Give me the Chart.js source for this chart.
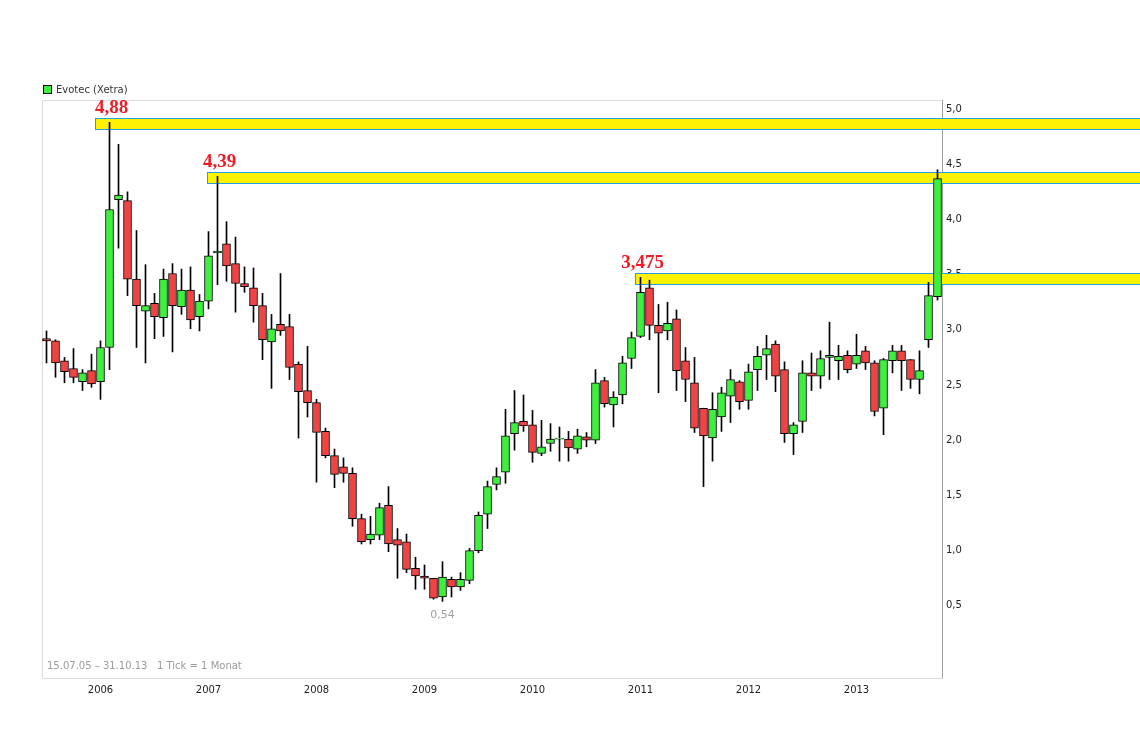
<!DOCTYPE html>
<html>
<head>
<meta charset="utf-8">
<script src="https://cdn.jsdelivr.net/npm/chart.js@4"></script>
<style>
  html, body { margin: 0; padding: 0; background: #fff; }
  #wrap { width: 1140px; height: 734px; }
</style>
</head>
<body>
<div id="wrap"><canvas id="chart" width="1140" height="734"></canvas></div>
<script>
// --- monthly candles, 07/2005 .. 10/2013
const opens = [2.92,2.90,2.72,2.65,2.53,2.63,2.53,2.84,4.18,4.17,3.46,3.17,3.24,3.11,3.51,3.21,3.36,3.12,3.26,3.70,
  3.78,3.60,3.42,3.38,3.22,2.89,3.05,3.03,2.69,2.45,2.34,2.08,1.86,1.76,1.70,1.29,1.10,1.14,1.41,1.10,
  1.08,0.84,0.77,0.75,0.58,0.74,0.67,0.73,1.00,1.33,1.60,1.71,2.06,2.17,2.14,1.88,1.97,2.01,2.01,1.92,
  2.03,2.00,2.54,2.32,2.41,2.74,2.94,3.38,3.04,2.99,3.10,2.72,2.52,2.29,2.02,2.21,2.40,2.53,2.36,2.64,
  2.77,2.87,2.64,2.06,2.17,2.61,2.58,2.75,2.72,2.77,2.69,2.81,2.70,2.29,2.72,2.81,2.73,2.55,2.91,3.30];
const highs = [2.99,2.91,2.75,2.83,2.64,2.78,2.90,4.88,4.68,4.25,3.90,3.59,3.33,3.55,3.60,3.55,3.57,3.32,3.89,4.39,
  3.98,3.84,3.57,3.56,3.33,3.14,3.51,3.14,2.71,2.85,2.37,2.11,1.92,1.84,1.75,1.33,1.31,1.43,1.58,1.20,
  1.15,0.94,0.87,0.75,0.90,0.76,0.80,1.02,1.35,1.63,1.75,2.28,2.45,2.41,2.27,2.18,2.15,2.12,2.08,2.10,
  2.07,2.64,2.57,2.44,2.76,2.98,3.475,3.45,3.23,3.25,3.18,2.84,2.75,2.29,2.43,2.48,2.64,2.54,2.69,2.85,
  2.95,2.90,2.71,2.16,2.72,2.79,2.81,3.07,2.86,2.81,2.96,2.85,2.72,2.74,2.86,2.86,2.73,2.81,3.43,4.45];
const lows = [2.70,2.57,2.52,2.52,2.45,2.48,2.37,2.64,3.74,3.31,2.84,2.70,2.92,2.94,2.80,3.14,3.01,2.99,3.19,3.41,
  3.44,3.16,3.34,3.07,2.73,2.47,2.95,2.55,2.02,2.21,1.62,1.84,1.57,1.62,1.22,1.06,1.06,1.10,0.99,0.75,
  0.80,0.65,0.65,0.56,0.54,0.58,0.64,0.70,0.98,1.20,1.55,1.61,1.91,2.08,1.80,1.86,1.90,1.81,1.81,1.88,
  1.94,1.97,2.30,2.12,2.33,2.65,2.93,2.91,2.43,2.91,2.45,2.35,2.07,1.58,1.81,2.08,2.16,2.28,2.28,2.45,
  2.55,2.44,1.98,1.87,2.07,2.45,2.47,2.55,2.55,2.61,2.65,2.64,2.22,2.05,2.61,2.45,2.47,2.42,2.84,3.27];
const closes = [2.90,2.70,2.62,2.57,2.61,2.51,2.84,4.09,4.22,3.46,3.22,3.22,3.12,3.46,3.22,3.36,3.09,3.26,3.67,3.71,
  3.58,3.42,3.39,3.22,2.91,3.01,2.99,2.66,2.44,2.34,2.07,1.86,1.69,1.70,1.29,1.08,1.15,1.39,1.06,1.05,
  0.83,0.77,0.75,0.57,0.76,0.67,0.74,1.00,1.32,1.58,1.67,2.04,2.16,2.13,1.89,1.94,2.01,2.02,1.93,2.04,
  2.00,2.52,2.33,2.39,2.70,2.93,3.34,3.04,2.97,3.06,2.63,2.55,2.11,2.04,2.28,2.43,2.55,2.35,2.62,2.76,
  2.83,2.58,2.06,2.14,2.61,2.58,2.74,2.77,2.76,2.64,2.77,2.70,2.26,2.73,2.81,2.72,2.55,2.63,3.31,4.37];

// highs marked with yellow bands
const markIdx = [7, 19, 66];
const markText = ["4,88", "4,39", "3,475"];
const markLead = [15, 11, 6];   // px the band starts left of its candle
const lowIdx = 44;
const lowText = "0,54";

const months = [];
for (let y = 2005; y <= 2013; y++) {
  for (let m = 1; m <= 12; m++) {
    if ((y === 2005 && m < 7) || (y === 2013 && m > 10)) continue;
    months.push(y + "-" + String(m).padStart(2, "0"));
  }
}

const GREEN = "#3ef03e";
const RED = "#f04343";
const upColors = closes.map((c, i) => c >= opens[i] ? GREEN : RED);

// ------------------------------------------
// overlay: frame, legend, bands, notes
// ------------------------------------------
const overlay = {
  id: "overlay",
  beforeDatasetsDraw(chart) {
    const { ctx, chartArea: a } = chart;
    const xs = chart.scales.x, ys = chart.scales.y;
    ctx.save();
    ctx.strokeStyle = "#dcdcdc";
    ctx.lineWidth = 1;
    ctx.strokeRect(a.left + 0.5, a.top + 0.5, a.right - a.left, a.bottom - a.top);
    ctx.strokeStyle = "#a0a0a0";
    ctx.beginPath();
    ctx.moveTo(a.right + 0.5, a.top);
    ctx.lineTo(a.right + 0.5, a.bottom);
    ctx.stroke();

    // bands behind the candles
    markIdx.forEach((idx, k) => {
      const x0 = Math.round(xs.getPixelForValue(idx) - markLead[k]);
      const yt = Math.round(ys.getPixelForValue(highs[idx] + 0.04));
      const yb = Math.round(ys.getPixelForValue(highs[idx] - 0.06));
      ctx.fillStyle = "#fff200";
      ctx.fillRect(x0, yt, chart.width - x0, yb - yt);
      ctx.strokeStyle = "#1ea0e6";
      ctx.strokeRect(x0 + 0.5, yt + 0.5, chart.width - x0, yb - yt);
      ctx.fillStyle = "#ee1c25";
      ctx.font = "bold 19px 'Liberation Serif', serif";
      ctx.textAlign = "center";
      ctx.textBaseline = "alphabetic";
      ctx.fillText(markText[k], xs.getPixelForValue(idx) + 2, yt - 5);
    });
    ctx.restore();
  },
  afterDraw(chart) {
    const { ctx, chartArea: a } = chart;
    const xs = chart.scales.x, ys = chart.scales.y;
    ctx.save();
    // low note
    ctx.fillStyle = "#a0a0a0";
    ctx.font = "11px 'DejaVu Sans', sans-serif";
    ctx.textAlign = "center";
    ctx.textBaseline = "top";
    ctx.fillText(lowText, xs.getPixelForValue(lowIdx), ys.getPixelForValue(lows[lowIdx]) + 8);
    // footer note
    ctx.textAlign = "left";
    ctx.fillStyle = "#9a9a9a";
    ctx.font = "10px 'DejaVu Sans', sans-serif";
    ctx.fillText("15.07.05 \u2013 31.10.13   1 Tick = 1 Monat", a.left + 5, a.bottom - 17);
    // legend
    ctx.fillStyle = GREEN;
    ctx.fillRect(a.left + 1, 85, 9, 9);
    ctx.strokeStyle = "#000";
    ctx.strokeRect(a.left + 1.5, 85.5, 8, 8);
    ctx.fillStyle = "#333";
    ctx.font = "10px 'DejaVu Sans', sans-serif";
    ctx.textBaseline = "middle";
    ctx.fillText("Evotec (Xetra)", a.left + 14, 90);
    ctx.restore();
  }
};

new Chart(document.getElementById("chart"), {
  type: "bar",
  data: {
    labels: months,
    datasets: [
      {
        label: "body",
        data: opens.map((o, i) => [o, Math.abs(closes[i] - o) < 0.005 ? o + 0.01 : closes[i]]),
        backgroundColor: upColors,
        borderColor: "#000",
        borderWidth: 1,
        borderSkipped: false,
        barThickness: 8,
        grouped: false
      },
      {
        label: "wick",
        data: lows.map((l, i) => [l, highs[i]]),
        backgroundColor: "#000",
        borderWidth: 0,
        barThickness: 1,
        grouped: false
      }
    ]
  },
  plugins: [overlay],
  options: {
    responsive: false,
    animation: false,
    layout: { padding: { left: 42, top: 100, right: 0, bottom: 0 } },
    plugins: { legend: { display: false }, tooltip: { enabled: false } },
    scales: {
      x: {
        offset: true,
        grid: { display: false, drawTicks: false },
        border: { display: false },
        afterFit(s) { s.height = 56; },
        ticks: {
          autoSkip: false,
          maxRotation: 0,
          padding: 6,
          color: "#222",
          font: { family: "'DejaVu Sans', sans-serif", size: 10 },
          callback(v, i) {
            const m = months[i];
            return m.endsWith("-01") ? m.slice(0, 4) : "";
          }
        }
      },
      y: {
        position: "right",
        min: -0.154,
        max: 5.082,
        grid: { display: false, drawTicks: false },
        border: { display: false },
        afterFit(s) { s.width = 198; },
        afterBuildTicks(s) {
          s.ticks = [0.5, 1, 1.5, 2, 2.5, 3, 3.5, 4, 4.5, 5].map(v => ({ value: v }));
        },
        ticks: {
          padding: 4,
          color: "#222",
          font: { family: "'DejaVu Sans', sans-serif", size: 10 },
          callback(v) { return v.toFixed(1).replace(".", ","); }
        }
      }
    }
  }
});
</script>
</body>
</html>
